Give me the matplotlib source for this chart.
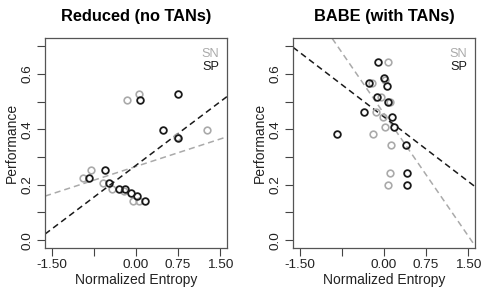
import numpy as np
import matplotlib
matplotlib.use('Agg')
import matplotlib.pyplot as plt

plt.rcParams['font.family'] = ['Liberation Sans', 'DejaVu Sans']

# reduced model (no TANs)
red_sn_x = [-0.16, 0.06, 1.26, -0.80, -0.95, -0.58, -0.42, -0.22, -0.05, 0.05, 0.74]
red_sn_y = [0.506, 0.527, 0.397, 0.253, 0.223, 0.206, 0.184, 0.178, 0.141, 0.140, 0.372]
red_sp_x = [0.08, 0.755, 0.48, 0.75, -0.56, -0.83, -0.48, -0.31, -0.19, -0.08, 0.02, 0.16]
red_sp_y = [0.506, 0.527, 0.398, 0.367, 0.253, 0.223, 0.206, 0.184, 0.184, 0.172, 0.161, 0.140]
red_sn_fit = (0.266, 0.066)   # intercept, slope
red_sp_fit = (0.270, 0.153)

# BABE (with TANs)
babe_sn_x = [0.07, 0.02, -0.22, -0.06, 0.11, -0.14, -0.01, 0.02, -0.20, 0.13, 0.11, 0.08]
babe_sn_y = [0.642, 0.578, 0.568, 0.518, 0.498, 0.464, 0.443, 0.410, 0.383, 0.344, 0.244, 0.200]
babe_sp_x = [-0.11, 0.0, -0.27, 0.05, -0.12, 0.07, -0.36, 0.14, 0.18, -0.84, 0.39, 0.42, 0.41]
babe_sp_y = [0.642, 0.584, 0.568, 0.558, 0.517, 0.498, 0.464, 0.443, 0.410, 0.383, 0.344, 0.244, 0.200]
babe_sn_fit = (0.457, -0.294)
babe_sp_fit = (0.445, -0.155)

xticks = [-1.5, -0.75, 0.0, 0.75, 1.5]
xticklabels = ['-1.50', '', '0.00', '0.75', '1.50']
yticks = [0.0, 0.1, 0.2, 0.3, 0.4, 0.5, 0.6, 0.7]
yticklabels = ['0.0', '', '0.2', '', '0.4', '', '0.6', '']

GRAY = '#aaaaaa'
BLACK = '#1a1a1a'
TXT = '#222222'

fig = plt.figure(figsize=(4.9, 2.98), dpi=100)
ax1 = fig.add_axes([0.092, 0.168, 0.371, 0.703])
ax2 = fig.add_axes([0.598, 0.168, 0.371, 0.703])

panels = [
    (ax1, 'Reduced (no TANs)', red_sn_x, red_sn_y, red_sp_x, red_sp_y, red_sn_fit, red_sp_fit),
    (ax2, 'BABE (with TANs)', babe_sn_x, babe_sn_y, babe_sp_x, babe_sp_y, babe_sn_fit, babe_sp_fit),
]

for ax, title, snx, sny, spx, spy, snfit, spfit in panels:
    ax.plot(snx, sny, 'o', ms=4.8, mfc='none', mec=GRAY, mew=1.2, zorder=3)
    ax.plot(spx, spy, 'o', ms=4.8, mfc='none', mec=BLACK, mew=1.3, zorder=4)
    ax.axline((0, snfit[0]), slope=snfit[1], color=GRAY, lw=1.1, dashes=(4, 2.6), zorder=2)
    ax.axline((0, spfit[0]), slope=spfit[1], color=BLACK, lw=1.1, dashes=(4, 2.6), zorder=2)
    ax.set_xlim(-1.62, 1.62)
    ax.set_ylim(-0.028, 0.728)
    ax.set_xticks(xticks)
    ax.set_xticklabels(xticklabels, fontsize=9.7, color=TXT)
    ax.set_yticks(yticks)
    ax.set_yticklabels(yticklabels, fontsize=9.7, color=TXT, rotation=90, va='center')
    ax.tick_params(direction='out', length=5.5, width=0.8, color='#444444', pad=2.5)
    for s in ax.spines.values():
        s.set_color('#555555')
        s.set_linewidth(0.9)
    ax.set_xlabel('Normalized Entropy', fontsize=10, color=TXT, labelpad=1.5)
    ax.set_ylabel('Performance', fontsize=10, color=TXT, labelpad=2)
    ax.set_title(title, fontsize=11.8, fontweight='bold', pad=12.5)
    ax.text(0.958, 0.926, 'SN', transform=ax.transAxes, ha='right', va='center',
            fontsize=9.2, color=GRAY)
    ax.text(0.958, 0.864, 'SP', transform=ax.transAxes, ha='right', va='center',
            fontsize=9.2, color=BLACK)

fig.savefig('out.png', dpi=100)
